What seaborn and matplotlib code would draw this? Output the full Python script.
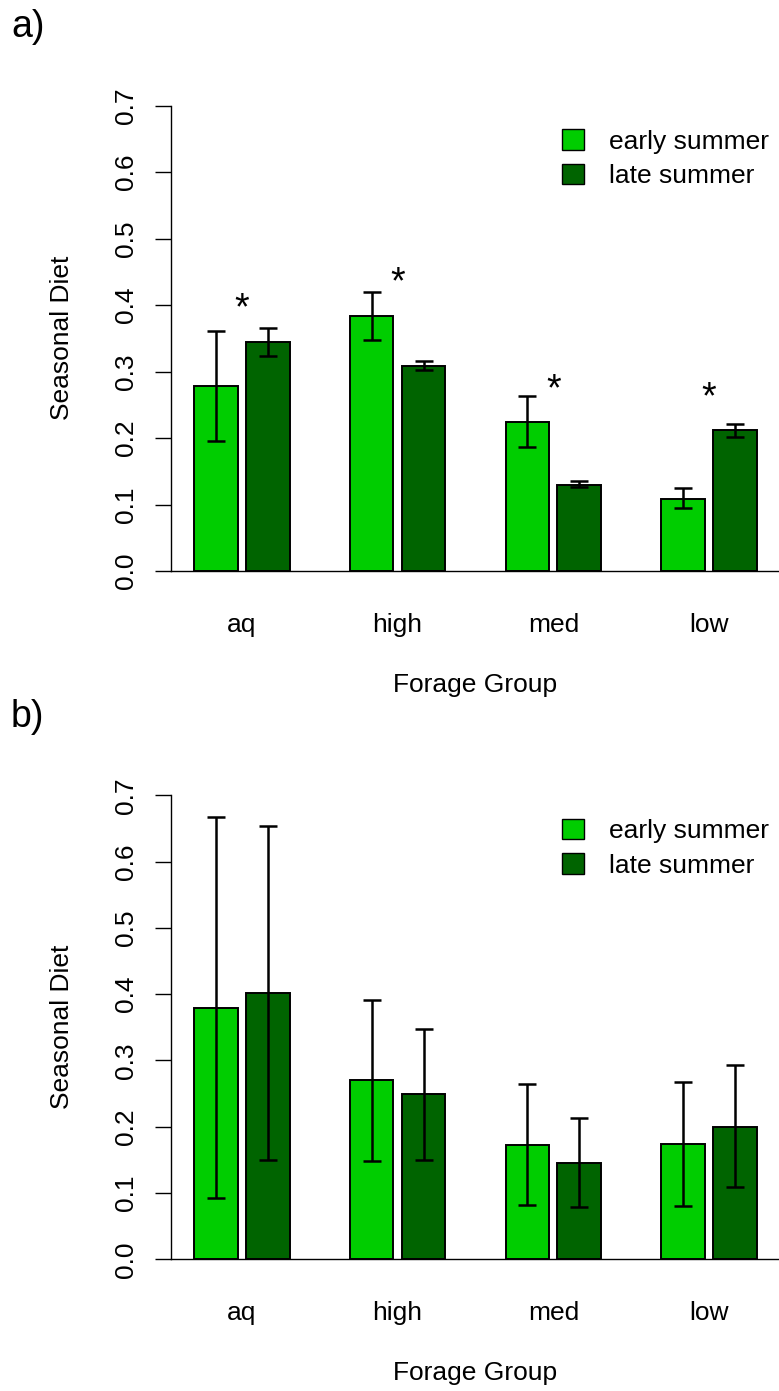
import numpy as np
import pandas as pd
import matplotlib
matplotlib.use("Agg")
import matplotlib.pyplot as plt
from matplotlib.container import BarContainer
import seaborn as sns

# ---- data ----
groups = ["aq", "high", "med", "low"]
seasons = ["early summer", "late summer"]

a_early = [0.278, 0.383, 0.2245, 0.109]
a_late = [0.344, 0.309, 0.130, 0.2115]
a_early_lo = [0.195, 0.347, 0.187, 0.094]
a_early_hi = [0.361, 0.420, 0.263, 0.125]
a_late_lo = [0.324, 0.302, 0.126, 0.202]
a_late_hi = [0.365, 0.316, 0.136, 0.2215]

b_early = [0.3795, 0.270, 0.173, 0.174]
b_late = [0.402, 0.249, 0.146, 0.200]
b_early_lo = [0.092, 0.149, 0.082, 0.080]
b_early_hi = [0.6676, 0.391, 0.264, 0.268]
b_late_lo = [0.150, 0.150, 0.079, 0.1095]
b_late_hi = [0.653, 0.348, 0.213, 0.293]

star_y = [0.379, 0.418, 0.257, 0.245]   # asterisk baselines, panel a
yticks = [0.0, 0.1, 0.2, 0.3, 0.4, 0.5, 0.6, 0.7]

colors = {"early summer": "#00CD00", "late summer": "#006400"}

sns.set_theme(style="white")
plt.rcParams["font.family"] = ["Liberation Sans", "DejaVu Sans"]
plt.rcParams["text.color"] = "black"
plt.rcParams["axes.labelcolor"] = "black"
plt.rcParams["xtick.color"] = "black"
plt.rcParams["ytick.color"] = "black"
FS = 19

W, H = 779, 1391
fig = plt.figure(figsize=(W / 100, H / 100), dpi=100)


def px_axes(left_px, zero_px, unit_px, ytop=0.75):
    left = left_px / W
    bottom = (H - zero_px) / H
    height = ytop * 10 * unit_px / H
    return fig.add_axes([left, bottom, 1.0 - left, height])


def panel(ax, early, late, elo, ehi, llo, lhi, stars=None):
    df = pd.DataFrame({
        "group": groups * 2,
        "season": [seasons[0]] * 4 + [seasons[1]] * 4,
        "value": list(early) + list(late),
    })
    sns.barplot(data=df, x="group", y="value", hue="season", order=groups,
                hue_order=seasons, palette=colors, width=0.667, gap=0.16,
                edgecolor="black", linewidth=1.4, errorbar=None, ax=ax,
                saturation=1)
    lows = [elo, llo]
    highs = [ehi, lhi]
    vals = [early, late]
    bar_conts = [c for c in ax.containers if isinstance(c, BarContainer)]
    for ci, cont in enumerate(bar_conts):
        xs = [b.get_x() + b.get_width() / 2 for b in cont]
        v = np.array(vals[ci])
        lo = v - np.array(lows[ci])
        hi = np.array(highs[ci]) - v
        ax.errorbar(xs, v, yerr=[lo, hi], fmt="none", ecolor="black",
                    elinewidth=1.8, capsize=6.3, capthick=1.8, zorder=5)
    if stars is not None:
        for i, sy in enumerate(stars):
            ax.text(i, sy, "*", ha="center", va="baseline", fontsize=27,
                    color="black")
    ax.set_xlim(-0.455, 3.449)
    ax.set_ylim(0, 0.75)
    ax.set_yticks(yticks)
    ax.set_yticklabels([f"{t:.1f}" for t in yticks], rotation=90,
                       va="center", fontsize=FS)
    ax.tick_params(axis="y", length=11.5, width=1.0, pad=12, color="black",
                   left=True, labelcolor="black")
    ax.tick_params(axis="x", length=0, pad=30, labelsize=FS,
                   labelcolor="black")
    for s in ["top", "right"]:
        ax.spines[s].set_visible(False)
    ax.spines["left"].set_bounds(0, 0.7)
    ax.spines["left"].set_color("black")
    ax.spines["bottom"].set_color("black")
    ax.spines["left"].set_linewidth(1.0)
    ax.spines["bottom"].set_linewidth(1.0)
    ax.set_ylabel("Seasonal Diet", fontsize=FS, va="center")
    ax.yaxis.set_label_coords(-0.18, 0.35 / 0.75)
    ax.set_xlabel("Forage Group", fontsize=FS, va="center")
    ax.xaxis.set_label_coords(0.5, -0.228)
    leg = ax.legend(loc="upper left", bbox_to_anchor=(0.6437, 0.886),
                    frameon=False, fontsize=FS, handlelength=0.82,
                    handleheight=0.82, handletextpad=0.95, labelspacing=0.38,
                    borderpad=0, borderaxespad=0)
    for h in leg.legend_handles:
        h.set_edgecolor("black")
        h.set_linewidth(1.0)
    for t in leg.get_texts():
        t.set_color("black")


ax_a = px_axes(171, 571, 66.5)
panel(ax_a, a_early, a_late, a_early_lo, a_early_hi, a_late_lo, a_late_hi,
      stars=star_y)
ax_b = px_axes(171, 1259.3, 66.3)
panel(ax_b, b_early, b_late, b_early_lo, b_early_hi, b_late_lo, b_late_hi)

fig.text(11 / W, 1 - 27 / H, "a)", fontsize=27, va="center", ha="left",
         color="black")
fig.text(11 / W, 1 - 717 / H, "b)", fontsize=27, va="center", ha="left",
         color="black")

fig.savefig("out.png", dpi=100)
